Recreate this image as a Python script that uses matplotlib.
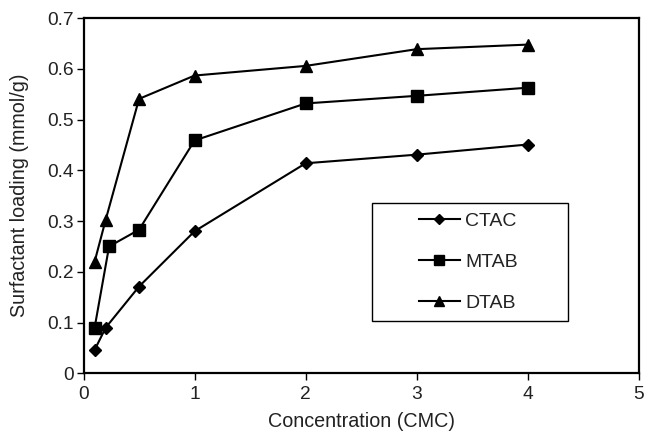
import numpy as np
import matplotlib
matplotlib.use("Agg")
import matplotlib.pyplot as plt
from matplotlib.patches import Rectangle

plt.rcParams['font.family'] = ['Liberation Sans', 'DejaVu Sans']

conc_ctac = [0.1, 0.2, 0.5, 1, 2, 3, 4]
ctac = [0.046, 0.090, 0.171, 0.280, 0.414, 0.431, 0.451]

conc_mtab = [0.1, 0.23, 0.5, 1, 2, 3, 4]
mtab = [0.090, 0.250, 0.283, 0.459, 0.532, 0.547, 0.563]

conc_dtab = [0.1, 0.2, 0.5, 1, 2, 3, 4]
dtab = [0.220, 0.303, 0.541, 0.587, 0.606, 0.639, 0.648]

xticks = [0, 1, 2, 3, 4, 5]
yticks = [0, 0.1, 0.2, 0.3, 0.4, 0.5, 0.6, 0.7]
ytick_labels = ['0', '0.1', '0.2', '0.3', '0.4', '0.5', '0.6', '0.7']

fig = plt.figure(figsize=(6.45, 4.34), dpi=100)
ax = fig.add_axes([0.1295, 0.140, 0.861, 0.818])

ax.plot(conc_ctac, ctac, color='black', lw=1.5, marker='D', ms=6.6, label='CTAC')
ax.plot(conc_mtab, mtab, color='black', lw=1.5, marker='s', ms=8.2, label='MTAB')
ax.plot(conc_dtab, dtab, color='black', lw=1.5, marker='^', ms=8.6, label='DTAB')

ax.set_xlim(0, 5)
ax.set_ylim(0, 0.7)
ax.set_xticks(xticks)
ax.set_yticks(yticks)
ax.set_yticklabels(ytick_labels)
ax.tick_params(direction='out', length=5, width=1, labelsize=13.8, colors='black', labelcolor='#222222')
ax.tick_params(axis='x', pad=4)
ax.tick_params(axis='y', pad=2)
for s in ax.spines.values():
    s.set_linewidth(1.6)

ax.set_xlabel('Concentration (CMC)', fontsize=14.2, color='#222222', labelpad=7)
ax.set_ylabel('Surfactant loading (mmol/g)', fontsize=14.2, color='#222222', labelpad=13)

leg = ax.legend(loc='center', bbox_to_anchor=(0.693, 0.314), frameon=False,
                fontsize=14, handlelength=2.1, handletextpad=0.3, labelspacing=1.2,
                borderpad=0.0, borderaxespad=0.0, markerscale=0.8)
for t in leg.get_texts():
    t.set_color('#222222')
ax.add_patch(Rectangle((0.519, 0.147), 0.353, 0.333, transform=ax.transAxes,
                       fill=False, edgecolor='black', lw=1.0, zorder=5))

fig.savefig('out.png', dpi=100)
